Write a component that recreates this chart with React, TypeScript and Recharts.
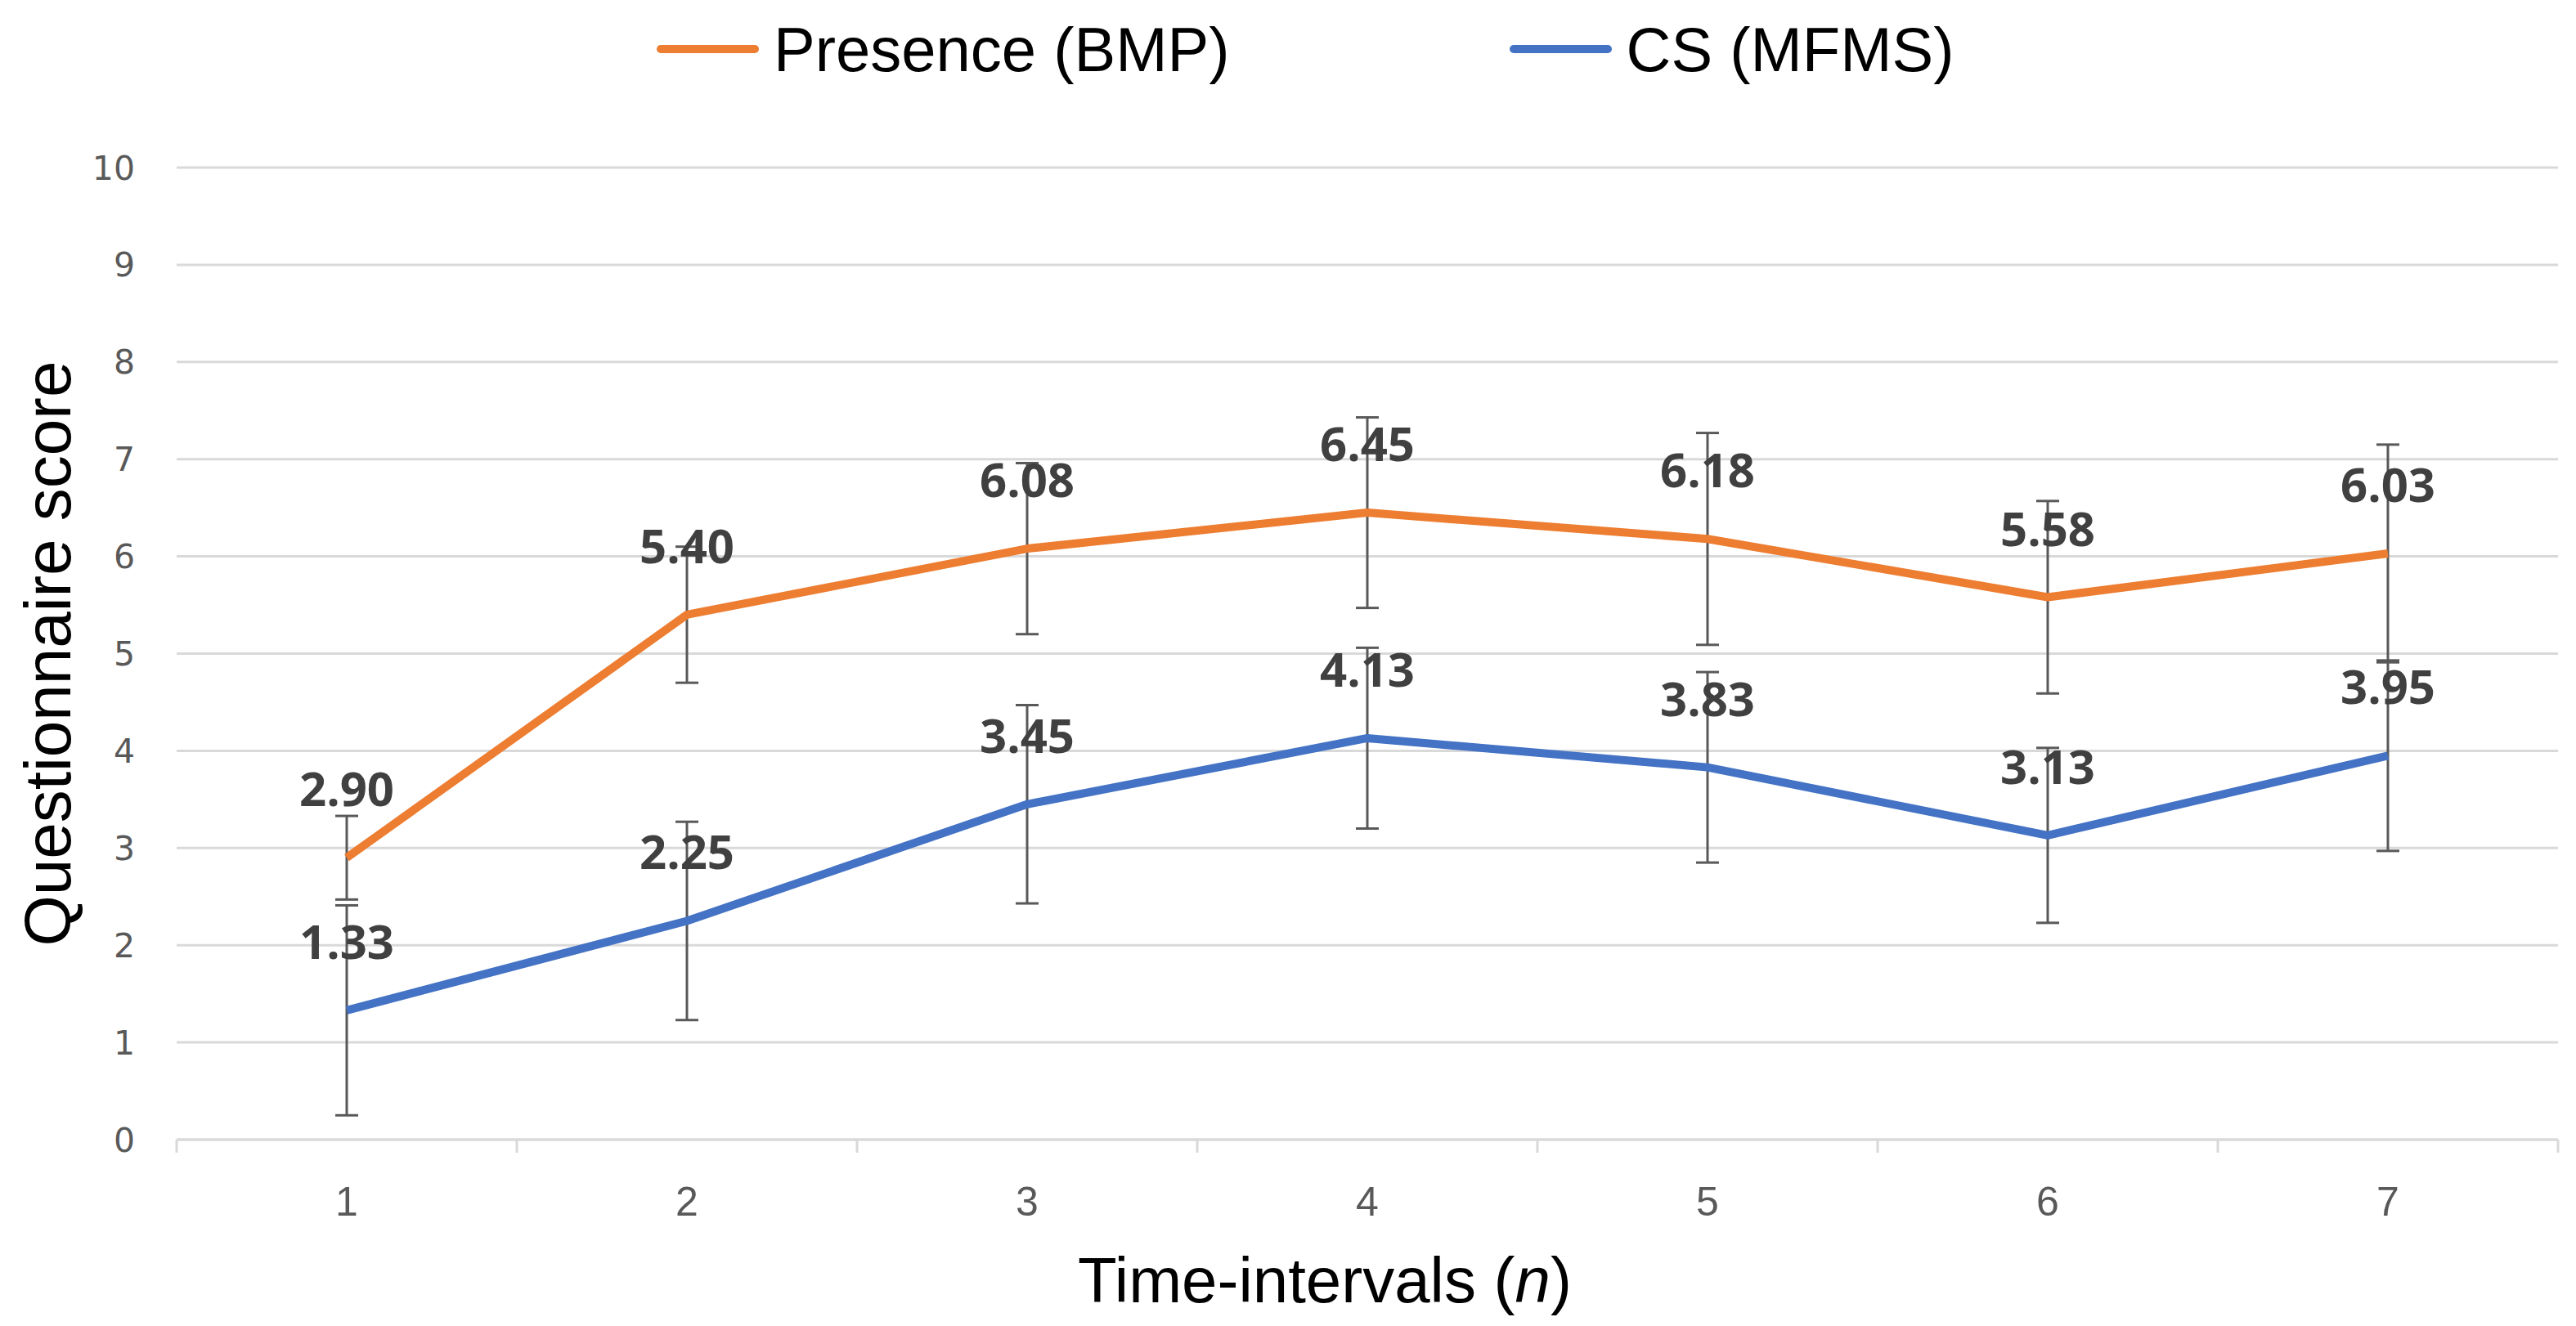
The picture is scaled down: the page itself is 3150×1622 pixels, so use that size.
import { LineChart, Line, XAxis, YAxis, CartesianGrid, Legend, LabelList, ErrorBar, Label } from "recharts"

// time intervals and scores
const intervals = [1, 2, 3, 4, 5, 6, 7]
const presence = [2.9, 5.4, 6.08, 6.45, 6.18, 5.58, 6.03]
const presenceErr = [0.43, 0.7, 0.88, 0.98, 1.09, 0.99, 1.12]
const cs = [1.33, 2.25, 3.45, 4.13, 3.83, 3.13, 3.95]
const csErr = [1.08, 1.02, 1.02, 0.93, 0.98, 0.9, 0.98]

const yTicks = [0, 1, 2, 3, 4, 5, 6, 7, 8, 9, 10]
// integer ticks carry labels, half ticks mark the category boundaries
const xTicks = [0.5, 1, 1.5, 2, 2.5, 3, 3.5, 4, 4.5, 5, 5.5, 6, 6.5, 7, 7.5]

const series = [
  { key: "presence", name: "Presence (BMP)", color: "#ED7D31" },
  { key: "cs", name: "CS (MFMS)", color: "#4472C4" },
]

const data = intervals.map((n, i) => ({
  n,
  presence: presence[i],
  presenceErr: presenceErr[i],
  cs: cs[i],
  csErr: csErr[i],
}))

const sans = '"Liberation Sans", Arial, sans-serif'
const GRID = "#D9D9D9"

const XTick = ({ x, y, payload }: any) => {
  const v = payload.value
  if (Number.isInteger(v)) {
    return (
      <text x={x} y={y + 76} textAnchor="middle" dominantBaseline="central" fill="#595959" fontSize={50} fontFamily={sans}>
        {v}
      </text>
    )
  }
  return <line x1={x} y1={y} x2={x} y2={y + 16} stroke={GRID} strokeWidth={3} />
}

const XTitle = ({ viewBox }: any) => {
  const cx = viewBox.x + viewBox.width / 2 - 52
  const cy = viewBox.y + 172
  return (
    <text x={cx} y={cy} textAnchor="middle" dominantBaseline="central" fill="#000" fontSize={78} fontFamily={sans}>
      Time-intervals (<tspan fontStyle="italic">n</tspan>)
    </text>
  )
}

const YTitle = ({ viewBox }: any) => {
  const cx = 50
  const cy = viewBox.y + viewBox.height / 2
  return (
    <text
      x={cx}
      y={cy}
      transform={`rotate(-90 ${cx} ${cy})`}
      textAnchor="middle"
      dominantBaseline="central"
      fill="#000"
      fontSize={80}
      fontFamily={sans}
    >
      Questionnaire score
    </text>
  )
}

const LegendBox = () => (
  <div
    style={{
      height: 104,
      display: "flex",
      alignItems: "center",
      paddingLeft: 795,
      gap: 342,
      fontFamily: sans,
      fontSize: 76,
      color: "#000",
    }}
  >
    {series.map((s) => (
      <div key={s.key} style={{ display: "flex", alignItems: "center", gap: 18 }}>
        <div style={{ width: 125, height: 10, borderRadius: 5, background: s.color }} />
        <span>{s.name}</span>
      </div>
    ))}
  </div>
)

export default function App() {
  return (
    <div style={{ width: 3134, height: 1606, background: "#fff" }}>
      <LineChart width={3134} height={1606} data={data} margin={{ top: 93, right: 14, bottom: 0, left: 108 }}>
        <CartesianGrid horizontal vertical={false} stroke={GRID} strokeWidth={3} />
        <XAxis
          dataKey="n"
          type="number"
          domain={[0.5, 7.5]}
          ticks={xTicks}
          interval={0}
          height={220}
          tickLine={false}
          tickSize={0}
          tickMargin={0}
          axisLine={{ stroke: GRID, strokeWidth: 3 }}
          tick={<XTick />}
        >
          <Label content={XTitle} />
        </XAxis>
        <YAxis
          domain={[0, 10]}
          ticks={yTicks}
          width={100}
          axisLine={false}
          tickLine={false}
          tickSize={0}
          tickMargin={51}
          tick={{ fill: "#595959", fontSize: 41, fontFamily: '"DejaVu Sans", sans-serif' }}
        >
          <Label content={YTitle} />
        </YAxis>
        <Legend verticalAlign="top" align="left" wrapperStyle={{ top: 0, left: 0, width: 3134 }} content={() => <LegendBox />} />
        {series.map((s) => (
          <Line
            key={s.key}
            type="linear"
            dataKey={s.key}
            name={s.name}
            stroke={s.color}
            strokeWidth={10}
            strokeLinejoin="round"
            dot={false}
            activeDot={false}
            isAnimationActive={false}
          >
            <ErrorBar dataKey={`${s.key}Err`} direction="y" width={14} stroke="#595959" strokeWidth={3} isAnimationActive={false} />
            <LabelList
              dataKey={s.key}
              position="top"
              offset={63}
              formatter={(v: any) => Number(v).toFixed(2)}
              fill="#404040"
              fontSize={58}
              fontWeight="bold"
              fontFamily='"Open Sans", sans-serif'
            />
          </Line>
        ))}
      </LineChart>
    </div>
  )
}
